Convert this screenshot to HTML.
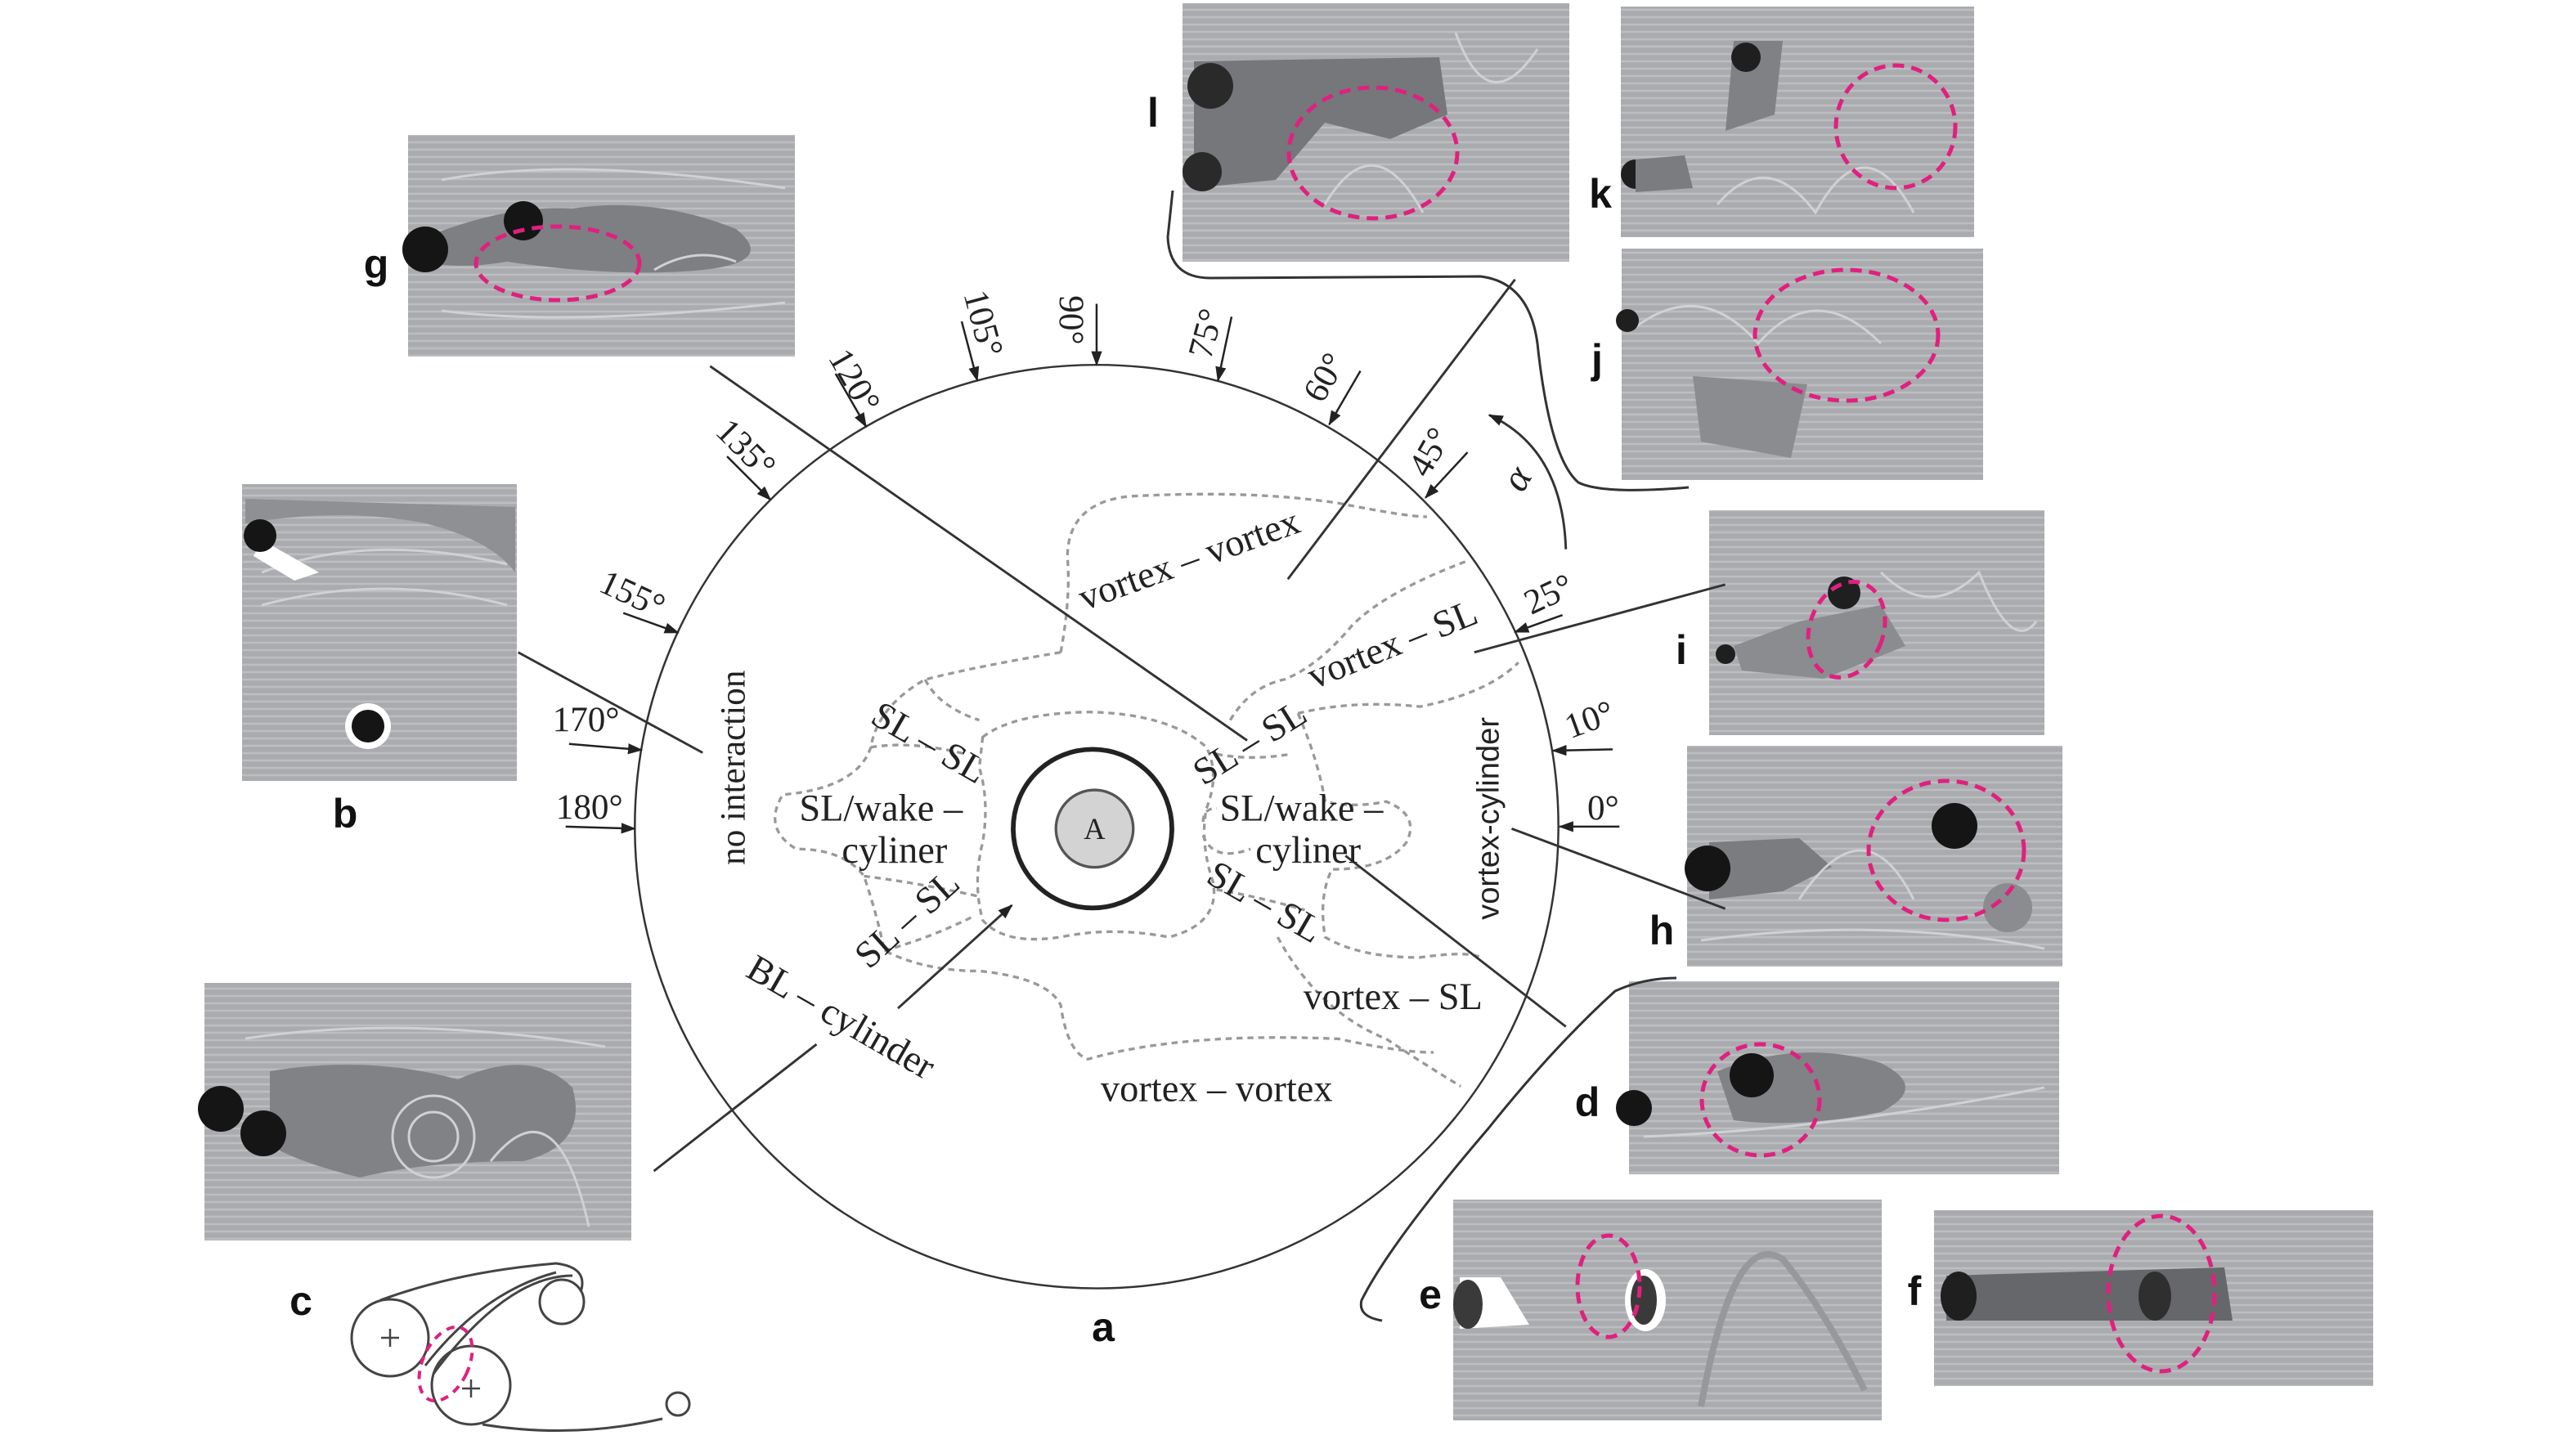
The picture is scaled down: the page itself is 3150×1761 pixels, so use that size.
<!DOCTYPE html>
<html><head><meta charset="utf-8"><style>
html,body{margin:0;padding:0;background:#fff;}
svg{display:block;}
.s{font-family:"Liberation Serif",serif;fill:#222;}
.b{font-family:"Liberation Sans",sans-serif;font-weight:bold;fill:#111;}
</style></head><body>
<svg width="3150" height="1761" viewBox="0 0 3150 1761" xmlns="http://www.w3.org/2000/svg">
<defs>
<pattern id="st" width="40" height="9" patternUnits="userSpaceOnUse">
<rect width="40" height="9" fill="#a9abae"/>
<line x1="0" y1="3" x2="40" y2="3" stroke="#bcbec1" stroke-width="2.5"/>
</pattern>
<marker id="ah2" markerWidth="22" markerHeight="22" refX="20" refY="11" orient="auto" markerUnits="userSpaceOnUse" viewBox="0 0 22 22">
<path d="M0,3 L22,11 L0,19 Z" fill="#222"/>
</marker>
</defs>

<g stroke="none">
<!-- g -->
<rect x="499" y="165" width="473" height="271" fill="url(#st)"/>
<path d="M520,290 Q620,250 700,255 Q800,240 900,280 Q950,320 860,330 Q760,340 620,320 Q560,330 520,320Z" fill="#7d7f83"/>
<g fill="none" stroke="#d0d1d3" stroke-width="3"><path d="M540,220 Q700,190 960,230"/><path d="M540,380 Q700,400 960,370"/><path d="M800,330 Q850,300 900,320"/></g>
<circle cx="520" cy="305" r="28" fill="#151515"/>
<circle cx="640" cy="270" r="24" fill="#151515"/>
<ellipse cx="682" cy="322" rx="100" ry="45" fill="none" stroke="#e0207f" stroke-width="5" stroke-dasharray="14 9"/>
<!-- b -->
<rect x="296" y="592" width="336" height="363" fill="url(#st)"/>
<path d="M300,640 Q420,620 520,640 Q600,660 630,700 L630,620 L300,610Z" fill="#8e9094"/>
<g fill="none" stroke="#d0d1d3" stroke-width="3"><path d="M320,700 Q450,650 620,690"/><path d="M320,740 Q470,700 620,740"/></g>
<path d="M320,660 L390,700 L360,710 L310,680Z" fill="#fff"/>
<circle cx="318" cy="655" r="20" fill="#151515"/>
<circle cx="450" cy="888" r="28" fill="#fff"/>
<circle cx="450" cy="888" r="20" fill="#151515"/>
<!-- c -->
<rect x="250" y="1202" width="522" height="315" fill="url(#st)"/>
<path d="M330,1310 Q450,1290 560,1320 Q650,1280 700,1330 Q720,1400 640,1420 Q520,1420 440,1440 Q360,1420 330,1400Z" fill="#808286"/>
<g fill="none" stroke="#d0d1d3" stroke-width="3"><circle cx="530" cy="1390" r="30"/><circle cx="530" cy="1390" r="50"/><path d="M300,1270 Q500,1240 740,1280"/><path d="M600,1420 Q680,1320 720,1500"/></g>
<circle cx="270" cy="1356" r="28" fill="#151515"/>
<circle cx="322" cy="1386" r="28" fill="#151515"/>
<!-- l -->
<rect x="1446" y="4" width="473" height="316" fill="url(#st)"/>
<path d="M1460,75 L1760,70 L1770,140 L1700,170 L1620,150 L1560,220 L1460,230Z" fill="#75777b"/>
<g fill="none" stroke="#d0d1d3" stroke-width="3"><path d="M1620,250 Q1680,150 1740,260"/><path d="M1780,40 Q1820,150 1880,60"/></g>
<circle cx="1480" cy="105" r="28" fill="#2a2a2a"/>
<circle cx="1470" cy="210" r="24" fill="#2a2a2a"/>
<ellipse cx="1679" cy="187" rx="103" ry="80" fill="none" stroke="#e0207f" stroke-width="5" stroke-dasharray="14 9"/>
<!-- k -->
<rect x="1982" y="8" width="432" height="282" fill="url(#st)"/>
<path d="M2120,50 L2180,50 L2170,140 L2110,160Z" fill="#7f8185"/>
<g fill="none" stroke="#d0d1d3" stroke-width="3"><path d="M2100,250 Q2160,180 2220,260 Q2280,150 2340,260"/></g>
<circle cx="2135" cy="70" r="18" fill="#1f1f1f"/>
<circle cx="2000" cy="213" r="18" fill="#1f1f1f"/>
<path d="M2000,195 L2060,190 L2070,230 L2000,235Z" fill="#7a7c80"/>
<ellipse cx="2318" cy="155" rx="73" ry="75" fill="none" stroke="#e0207f" stroke-width="5" stroke-dasharray="14 9"/>
<!-- j -->
<rect x="1983" y="304" width="442" height="283" fill="url(#st)"/>
<path d="M2070,460 L2210,470 L2190,560 L2080,540Z" fill="#8a8c90"/>
<g fill="none" stroke="#d0d1d3" stroke-width="3"><path d="M2000,400 Q2080,340 2150,420 Q2220,340 2300,420"/></g>
<circle cx="1990" cy="392" r="14" fill="#1f1f1f"/>
<ellipse cx="2258" cy="410" rx="112" ry="80" fill="none" stroke="#e0207f" stroke-width="5" stroke-dasharray="14 9"/>
<!-- i -->
<rect x="2090" y="624" width="410" height="275" fill="url(#st)"/>
<path d="M2120,790 L2200,760 L2300,740 L2330,790 L2230,830 L2130,820Z" fill="#8a8c90"/>
<g fill="none" stroke="#d0d1d3" stroke-width="3"><path d="M2300,700 Q2360,760 2420,700 Q2460,800 2490,760"/></g>
<circle cx="2255" cy="725" r="20" fill="#1f1f1f"/>
<circle cx="2110" cy="800" r="12" fill="#1f1f1f"/>
<ellipse cx="2258" cy="770" rx="45" ry="60" transform="rotate(20 2258 770)" fill="none" stroke="#e0207f" stroke-width="5" stroke-dasharray="14 9"/>
<!-- h -->
<rect x="2063" y="912" width="459" height="270" fill="url(#st)"/>
<path d="M2090,1030 L2200,1025 L2240,1060 L2180,1090 L2090,1100Z" fill="#7a7c80"/>
<g fill="none" stroke="#d0d1d3" stroke-width="3"><path d="M2200,1100 Q2280,980 2340,1100"/><path d="M2080,1150 Q2300,1120 2500,1160"/></g>
<circle cx="2088" cy="1062" r="28" fill="#151515"/>
<circle cx="2390" cy="1010" r="28" fill="#151515"/>
<circle cx="2455" cy="1110" r="30" fill="#8a8c90"/>
<ellipse cx="2380" cy="1040" rx="95" ry="85" fill="none" stroke="#e0207f" stroke-width="5" stroke-dasharray="14 9"/>
<!-- d -->
<rect x="1992" y="1200" width="526" height="236" fill="url(#st)"/>
<path d="M2100,1310 Q2200,1270 2300,1300 Q2360,1330 2300,1360 Q2200,1380 2120,1370Z" fill="#808286"/>
<g fill="none" stroke="#d0d1d3" stroke-width="3"><path d="M2010,1390 Q2250,1380 2500,1330"/></g>
<circle cx="1998" cy="1355" r="22" fill="#151515"/>
<circle cx="2142" cy="1315" r="27" fill="#151515"/>
<ellipse cx="2153" cy="1345" rx="72" ry="68" fill="none" stroke="#e0207f" stroke-width="5" stroke-dasharray="14 9"/>
<!-- e -->
<rect x="1777" y="1467" width="524" height="270" fill="url(#st)"/>
<g fill="none" stroke="#969899" stroke-width="8"><path d="M2080,1720 Q2120,1500 2180,1540 Q2230,1600 2280,1700"/></g>
<path d="M1785,1562 L1835,1562 L1870,1620 L1785,1625Z" fill="#fff"/>
<ellipse cx="1795" cy="1595" rx="18" ry="30" fill="#3a3a3a"/>
<ellipse cx="2012" cy="1590" rx="25" ry="38" fill="#fff"/>
<ellipse cx="2010" cy="1590" rx="16" ry="30" fill="#3a3a3a"/>
<ellipse cx="1967" cy="1573" rx="38" ry="62" fill="none" stroke="#e0207f" stroke-width="5" stroke-dasharray="14 9"/>
<!-- f -->
<rect x="2365" y="1480" width="537" height="215" fill="url(#st)"/>
<path d="M2380,1560 L2720,1550 L2730,1615 L2380,1615Z" fill="#65676b"/>
<ellipse cx="2395" cy="1585" rx="22" ry="30" fill="#1f1f1f"/>
<ellipse cx="2635" cy="1585" rx="20" ry="30" fill="#2f2f2f"/>
<ellipse cx="2643" cy="1582" rx="65" ry="95" fill="none" stroke="#e0207f" stroke-width="5" stroke-dasharray="14 9"/>
</g>

<g class="b" font-size="50" text-anchor="middle">
<text x="460" y="340">g</text>
<text x="422" y="1012">b</text>
<text x="368" y="1608">c</text>
<text x="1410" y="155">l</text>
<text x="1957" y="254">k</text>
<text x="1953" y="456">j</text>
<text x="2056" y="812">i</text>
<text x="2032" y="1155">h</text>
<text x="1941" y="1365">d</text>
<text x="1749" y="1600">e</text>
<text x="2341" y="1596">f</text>
<text x="1349" y="1640">a</text>
</g>

<g fill="none" stroke="#444" stroke-width="3">
<circle cx="477" cy="1636" r="47"/>
<circle cx="576" cy="1694" r="48"/>
<path d="M465,1590 Q560,1555 680,1545 Q720,1550 710,1580"/>
<path d="M520,1670 Q590,1580 680,1556"/>
<circle cx="687" cy="1592" r="27"/>
<path d="M530,1680 Q620,1560 700,1560"/>
<path d="M590,1742 Q700,1760 810,1735"/>
<circle cx="829" cy="1717" r="14"/>
<path d="M466,1636 h22 M477,1625 v22 M565,1698 h22 M576,1687 v22" stroke-width="2.5"/>
<ellipse cx="545" cy="1668" rx="28" ry="48" transform="rotate(25 545 1668)" stroke="#e0207f" stroke-width="4" stroke-dasharray="10 8"/>
</g>

<g fill="none" stroke="#333" stroke-width="3">
<path d="M1434,233 L1428,290 Q1430,340 1480,340 L1810,338 Q1870,345 1880,420 Q1895,560 1930,590 Q1960,605 2065,596"/>
<path d="M2050,1196 Q2010,1196 1975,1212 Q1900,1280 1820,1380 Q1700,1520 1665,1590 Q1660,1610 1690,1615"/>
</g>

<g transform="translate(700,350) scale(0.8292)">
<circle cx="773" cy="797" r="681" fill="none" stroke="#333" stroke-width="3"/>
<circle cx="767" cy="800" r="117" fill="none" stroke="#222" stroke-width="7"/>
<circle cx="770" cy="800" r="57" fill="#d3d3d3" stroke="#555" stroke-width="4"/>
<text class="s" x="770" y="815" font-size="44" text-anchor="middle">A</text>

<g fill="none" stroke="#999" stroke-width="4" stroke-dasharray="9 7">
<path d="M605,665 Q650,630 760,628 Q880,630 935,680 Q955,720 935,770 Q925,820 945,880 Q955,940 880,960 Q800,945 730,958 Q640,975 605,935 Q590,880 605,820 Q615,760 600,710Z"/>
<path d="M720,540 Q735,460 730,400 Q730,320 820,310 Q1000,300 1130,320 Q1230,340 1260,340"/>
<path d="M720,540 Q600,560 520,580 Q450,620 440,680 Q420,740 310,750 Q280,800 330,830 Q400,830 430,870 Q450,930 460,980 Q520,1010 600,1010 Q700,1020 720,1060 Q730,1130 760,1140 Q900,1100 1130,1110 Q1220,1130 1270,1130"/>
<path d="M970,640 Q1000,590 1050,580 Q1100,560 1150,500 Q1200,450 1320,405"/>
<path d="M1070,630 Q1150,610 1250,620 Q1350,600 1395,555"/>
<path d="M1070,630 Q1100,700 1110,760 Q1150,770 1200,760 Q1250,780 1230,820 Q1200,860 1120,860 Q1100,900 1110,960 Q1160,990 1250,990 Q1320,980 1340,990"/>
<path d="M930,790 Q930,770 950,770 M930,810 Q945,850 1000,830"/>
<path d="M1040,960 Q1100,1070 1200,1110 Q1260,1150 1310,1180"/>
<path d="M520,580 Q540,620 600,640 M440,680 Q500,670 580,690"/>
<path d="M430,870 Q510,880 600,900 M460,980 Q530,960 590,930"/>
<path d="M950,690 Q1000,700 1060,690 M950,890 Q1010,900 1080,920"/>
</g>

<g stroke="#333" stroke-width="3.5" fill="none">
<line x1="203" y1="118" x2="995" y2="670"/>
<line x1="1390" y1="-10" x2="1055" y2="432"/>
<line x1="-80" y1="540" x2="192" y2="688"/>
<line x1="120" y1="1305" x2="360" y2="1118"/>
<line x1="480" y1="1065" x2="648" y2="913" marker-end="url(#ah2)"/>
<line x1="1700" y1="440" x2="1330" y2="540"/>
<line x1="1700" y1="918" x2="1385" y2="800"/>
<line x1="1465" y1="1092" x2="1140" y2="840"/>
<path d="M1465,388 Q1460,240 1352,190" marker-end="url(#ah2)"/>
</g>

<g stroke="#222" stroke-width="3" marker-end="url(#ah2)">
<line x1="773" y1="26" x2="773" y2="116"/>
<line x1="574" y1="52" x2="597" y2="139"/>
<line x1="388" y1="129" x2="433" y2="207"/>
<line x1="228" y1="251" x2="292" y2="315"/>
<line x1="75" y1="482" x2="156" y2="511"/>
<line x1="-5" y1="675" x2="102" y2="684"/>
<line x1="-10" y1="797" x2="92" y2="800"/>
<line x1="972" y1="45" x2="952" y2="139"/>
<line x1="1162" y1="125" x2="1116" y2="204"/>
<line x1="1320" y1="245" x2="1258" y2="312"/>
<line x1="1460" y1="485" x2="1390" y2="510"/>
<line x1="1534" y1="683" x2="1446" y2="685"/>
<line x1="1544" y1="797" x2="1456" y2="797"/>
</g>

<g class="s" font-size="52" text-anchor="middle">
<text transform="translate(735,50) rotate(90)" dy="16">90°</text>
<text transform="translate(605,55) rotate(75)" dy="16">105°</text>
<text transform="translate(415,140) rotate(60)" dy="16">120°</text>
<text transform="translate(255,240) rotate(45)" dy="16">135°</text>
<text transform="translate(88,455) rotate(25)" dy="16">155°</text>
<text transform="translate(935,70) rotate(-75)" dy="16">75°</text>
<text transform="translate(1110,135) rotate(-60)" dy="16">60°</text>
<text transform="translate(1265,245) rotate(-60)" dy="16">45°</text>
<text transform="translate(1440,455) rotate(-25)" dy="16">25°</text>
<text transform="translate(1500,640) rotate(-20)" dy="16">10°</text>
<text x="1520" y="786">0°</text>
<text x="20" y="656">170°</text>
<text x="25" y="785">180°</text>
<text transform="translate(1395,285) rotate(-60)" dy="16" font-style="italic" font-size="58">α</text>
</g>

<g class="s" font-size="56" text-anchor="middle">
<text transform="translate(910,405) rotate(-20)" dy="16">vortex – vortex</text>
<text transform="translate(1210,530) rotate(-22)" dy="16">vortex – SL</text>
<text transform="translate(1000,675) rotate(-32)" dy="16">SL – SL</text>
<text x="1075" y="788">SL/wake –</text>
<text x="1085" y="850">cyliner</text>
<text transform="translate(1020,910) rotate(30)" dy="16">SL – SL</text>
<text x="1210" y="1066">vortex – SL</text>
<text x="950" y="1202">vortex – vortex</text>
<text transform="translate(525,675) rotate(30)" dy="16">SL – SL</text>
<text x="455" y="788">SL/wake –</text>
<text x="475" y="850">cyliner</text>
<text transform="translate(495,935) rotate(-42)" dy="16">SL – SL</text>
<text transform="translate(395,1080) rotate(30)" dy="16">BL – cylinder</text>
<text transform="translate(238,710) rotate(-90)" dy="16" font-size="52">no interaction</text>
<text transform="translate(1350,785) rotate(-90)" dy="16" font-size="46" font-family="Liberation Sans, sans-serif">vortex-cylinder</text>
</g>
</g>
</svg>
</body></html>
